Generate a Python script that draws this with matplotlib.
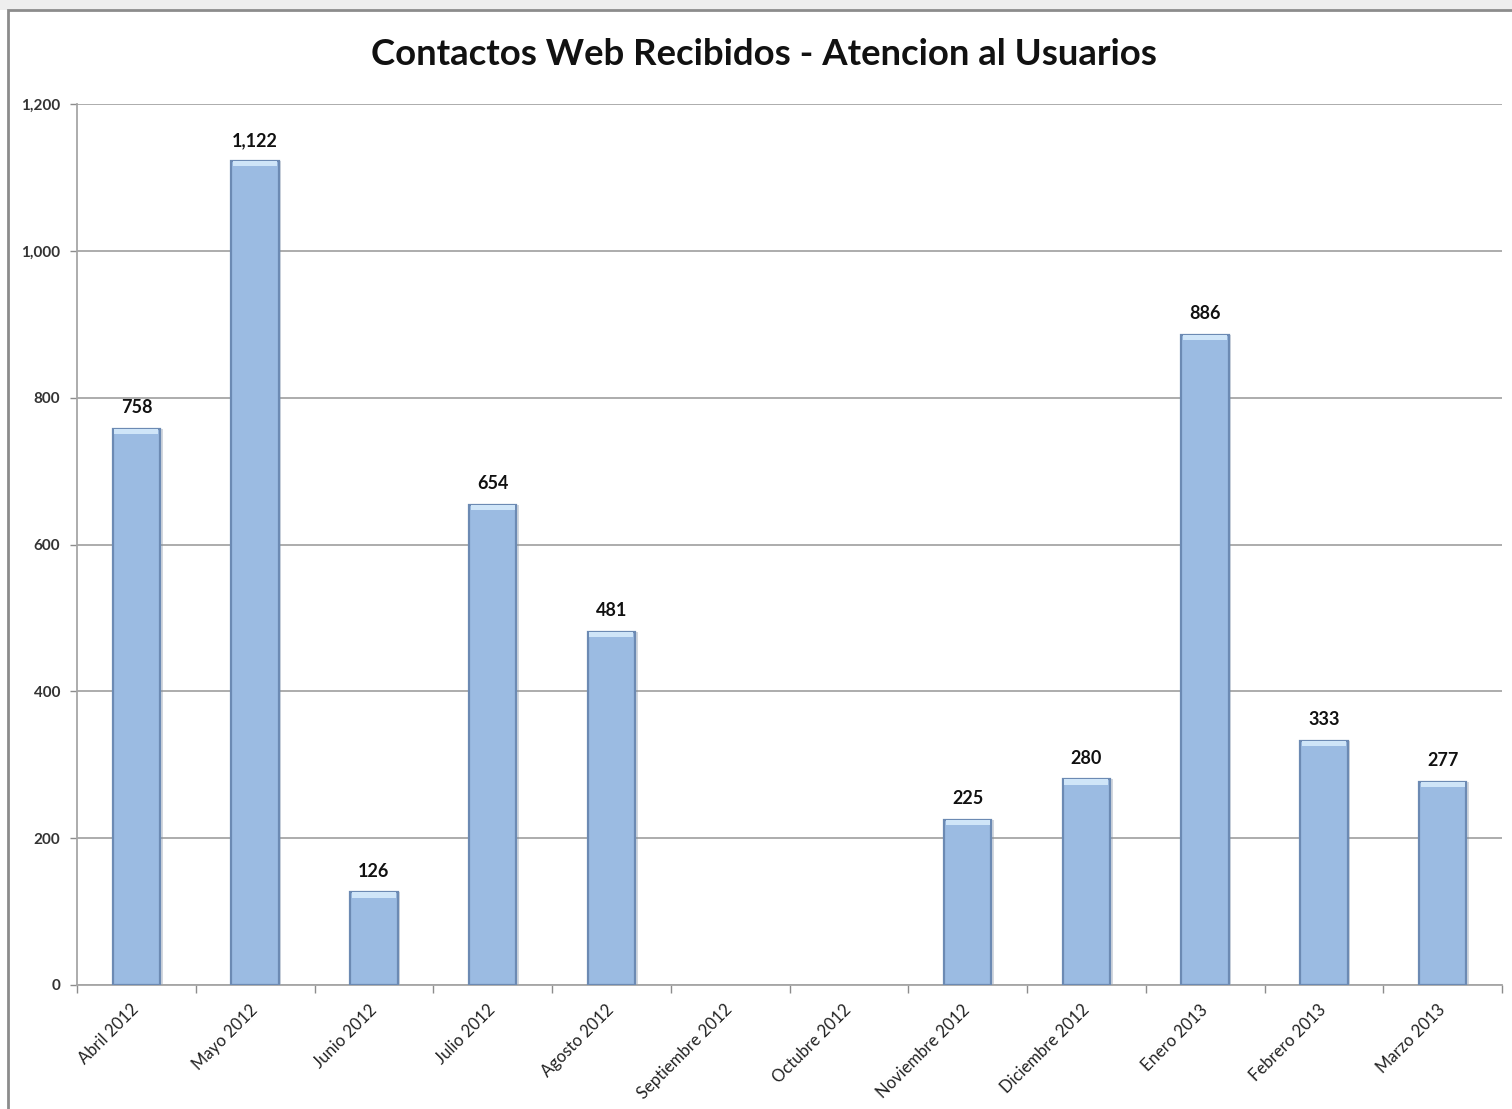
import numpy as np
import matplotlib
matplotlib.use('Agg')
import matplotlib.pyplot as plt
from matplotlib.patches import Rectangle
from matplotlib.ticker import FuncFormatter

# data
months = ['Abril 2012', 'Mayo 2012', 'Junio 2012', 'Julio 2012', 'Agosto 2012',
          'Septiembre 2012', 'Octubre 2012', 'Noviembre 2012', 'Diciembre 2012',
          'Enero 2013', 'Febrero 2013', 'Marzo 2013']
contacts = [758, 1122, 126, 654, 481, 0, 0, 225, 280, 886, 333, 277]
yticks = [0, 200, 400, 600, 800, 1000, 1200]

plt.rcParams['font.family'] = ['Lato', 'DejaVu Sans']

fig = plt.figure(figsize=(15.12, 11.09), dpi=100)
fig.patch.set_facecolor('white')

# light strip on top and the chart frame (cut at right/bottom)
fig.add_artist(Rectangle((0, 1 - 10/1109), 1, 10/1109, transform=fig.transFigure,
                         facecolor='#EEEEEE', edgecolor='none', zorder=-2))
fig.add_artist(Rectangle((8/1512, -0.05), 1.2, 1.05 - 10/1109, transform=fig.transFigure,
                         facecolor='white', edgecolor='#8C8C8C', linewidth=2, zorder=-1))

ax = fig.add_axes([77/1512, 1 - 985/1109, 1425/1512, 881/1109])
ax.set_facecolor('none')
ax.set_zorder(1)

x = np.arange(len(months))
vals = np.array(contacts)
w = 0.4
top = vals > 0

# shadow, body, top bevel (empty months draw nothing)
ax.bar(x[top] + 0.02, vals[top], width=w, color='#7F8FA3', alpha=0.35, zorder=2)
ax.bar(x[top], vals[top], width=w, color='#9BBBE2', edgecolor='#6C8AB3', linewidth=1.6, zorder=3)
ax.bar(x[top], np.full(top.sum(), 7.0), bottom=vals[top] - 7.0, width=w - 0.03,
       color='#CFE5F8', edgecolor='none', zorder=4)

for xi, v in zip(x, vals):
    if v > 0:
        ax.annotate(f'{v:,}', (xi, v), xytext=(0, 9), textcoords='offset points',
                    ha='center', va='bottom', fontsize=13, fontweight='bold', color='#111111')

ax.set_ylim(0, 1200)
ax.set_xlim(-0.5, len(months) - 0.5)
ax.set_yticks(yticks)
ax.yaxis.set_major_formatter(FuncFormatter(lambda v, p: f'{int(v):,}'))
ax.tick_params(axis='y', length=5, width=1, color='#8C8C8C', labelsize=11, pad=7, labelcolor='#333333')
for t in ax.get_yticklabels():
    t.set_fontweight('bold')
ax.grid(axis='y', color='#A6A6A6', linewidth=1.3, zorder=1)
ax.set_axisbelow(True)

ax.set_xticks(np.arange(-0.5, len(months)), minor=False)
ax.set_xticklabels([])
ax.tick_params(axis='x', which='major', length=6, width=1, color='#8C8C8C')
ax.set_xticks(x, minor=True)
ax.set_xticklabels(months, minor=True, rotation=45, ha='right', va='center',
                   rotation_mode='anchor', fontsize=12, color='#222222')
ax.tick_params(axis='x', which='minor', length=0, pad=16)

for s in ['top', 'right']:
    ax.spines[s].set_visible(False)
for s in ['left', 'bottom']:
    ax.spines[s].set_color('#A6A6A6')
    ax.spines[s].set_linewidth(1.3)

fig.text(0.505, 0.951, 'Contactos Web Recibidos - Atencion al Usuarios',
         ha='center', va='center', fontsize=26.3, fontweight='bold', color='#111111')

fig.savefig('out.png', dpi=100)
